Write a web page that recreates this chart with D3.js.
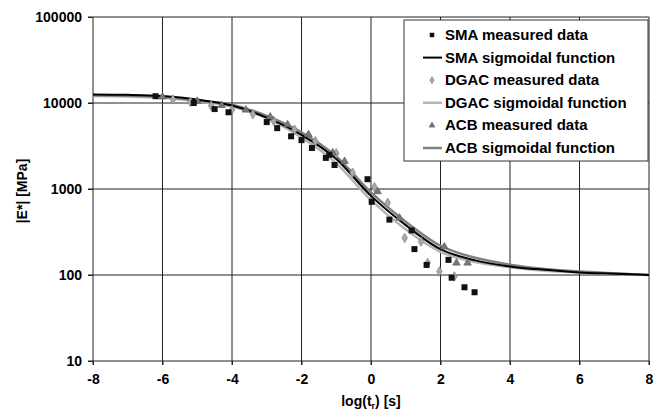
<!DOCTYPE html>
<html>
<head>
<meta charset="utf-8">
<script src="https://cdn.jsdelivr.net/npm/d3@7"></script>
<style>
  body { margin: 0; background: #fff; }
  svg text { font-family: "Liberation Sans", Arial, sans-serif; font-weight: bold; fill: #000; }
</style>
</head>
<body>
<div id="chart"></div>
<script>
// reduced time log(t_r) vs |E*| in MPa
const xTicks = [-8, -6, -4, -2, 0, 2, 4, 6, 8];
const yTicks = [10, 100, 1000, 10000, 100000];

// measured data [log(t_r), |E*|]
const smaMeasured = [
    [-6.2, 12000], [-5.1, 10000], [-4.5, 8500], [-4.1, 7800], [-3.0, 6000],
    [-2.7, 5100], [-2.3, 4100], [-2.0, 3700], [-1.7, 3000], [-1.3, 2300],
    [-1.2, 2500], [-1.05, 1900], [-0.1, 1300], [0.02, 710], [0.53, 440],
    [1.17, 330], [1.25, 200], [1.6, 131], [2.23, 150], [2.32, 93],
    [2.69, 72], [2.98, 63]
];
const dgacMeasured = [
    [-5.7, 11000], [-5.2, 10300], [-4.6, 9300], [-4.0, 8300], [-3.4, 7400],
    [-2.8, 6200], [-2.2, 4900], [-1.6, 3600], [-1.0, 2600], [-0.53, 1550],
    [0.1, 1050], [0.48, 690], [0.97, 270], [1.44, 245], [1.63, 138],
    [1.97, 110], [2.4, 96]
];
const acbMeasured = [
    [-6.0, 11800], [-5.0, 10500], [-4.3, 9400], [-3.6, 8300], [-2.9, 6900],
    [-2.4, 5600], [-1.8, 4300], [-1.1, 2640], [-0.76, 2100], [0.19, 935],
    [0.82, 460], [2.11, 213], [2.46, 138], [2.78, 138]
];

// sigmoidal fits [log(t_r), log10|E*|]
const smaSigmoid = [
    [-8, 4.10], [-7, 4.095], [-6, 4.08], [-5, 4.04], [-4, 3.97], [-3, 3.83],
    [-2, 3.63], [-1, 3.35], [0, 2.92], [1, 2.58], [2, 2.30], [3, 2.17],
    [4, 2.10], [5, 2.06], [6, 2.03], [7, 2.015], [8, 2.00]
];
const dgacSigmoid = [
    [-8, 4.08], [-7, 4.075], [-6, 4.06], [-5, 4.02], [-4, 3.96], [-3, 3.82],
    [-2, 3.60], [-1, 3.30], [0, 2.87], [1, 2.53], [2, 2.27], [3, 2.15],
    [4, 2.09], [5, 2.05], [6, 2.03], [7, 2.015], [8, 2.00]
];
const acbSigmoid = [
    [-8, 4.09], [-7, 4.085], [-6, 4.07], [-5, 4.03], [-4, 3.98], [-3, 3.85],
    [-2, 3.66], [-1, 3.38], [0, 2.96], [1, 2.62], [2, 2.34], [3, 2.20],
    [4, 2.12], [5, 2.07], [6, 2.04], [7, 2.02], [8, 2.00]
];

const legendLabels = [
    "SMA measured data", "SMA sigmoidal function",
    "DGAC measured data", "DGAC sigmoidal function",
    "ACB measured data", "ACB sigmoidal function"
];

const width = 663, height = 414;
const svg = d3.select("#chart").append("svg")
    .attr("width", width)
    .attr("height", height);

const x = d3.scaleLinear().domain([-8, 8]).range([93, 649]);
const y = d3.scaleLog().domain([10, 100000]).range([361, 17]);

// grid
svg.append("g").selectAll("line").data(yTicks).join("line")
    .attr("x1", 88).attr("x2", 649)
    .attr("y1", d => y(d)).attr("y2", d => y(d))
    .attr("stroke", "#222").attr("stroke-width", 1);
svg.append("g").selectAll("line").data(xTicks).join("line")
    .attr("x1", d => x(d)).attr("x2", d => x(d))
    .attr("y1", 17).attr("y2", 365)
    .attr("stroke", "#222").attr("stroke-width", 1);

// axes labels
const yAxis = svg.append("g").attr("transform", "translate(93,0)")
    .call(d3.axisLeft(y).tickValues(yTicks).tickFormat(d3.format("d")).tickSize(5).tickPadding(6));
const xAxis = svg.append("g").attr("transform", "translate(0,361)")
    .call(d3.axisBottom(x).tickValues(xTicks).tickFormat(d => d).tickSize(4).tickPadding(9));
[yAxis, xAxis].forEach(a => {
    a.select(".domain").remove();
    a.selectAll(".tick line").attr("stroke", "#222");
    a.selectAll("text").attr("font-size", 14).attr("font-family", null).style("fill", "#000");
});
xAxis.selectAll("text").text(d => d < 0 ? "-" + Math.abs(d) : d);

svg.append("text")
    .attr("transform", "translate(27,191) rotate(-90)")
    .attr("text-anchor", "middle")
    .attr("font-size", 14)
    .text("|E*| [MPa]");

const xt = svg.append("text")
    .attr("x", 371).attr("y", 406)
    .attr("text-anchor", "middle")
    .attr("font-size", 14);
xt.append("tspan").text("log(t");
xt.append("tspan").attr("font-size", 9).attr("dy", 3).text("r");
xt.append("tspan").attr("dy", -3).text(") [s]");

// curves
const line = d3.line()
    .x(d => x(d[0]))
    .y(d => y(Math.pow(10, d[1])))
    .curve(d3.curveMonotoneX);

const curves = [
    { data: dgacSigmoid, color: "#b4b4b4", w: 2.5 },
    { data: acbSigmoid, color: "#808080", w: 2.5 },
    { data: smaSigmoid, color: "#000", w: 2 }
];
curves.forEach(c => {
    svg.append("path").datum(c.data)
        .attr("d", line)
        .attr("fill", "none")
        .attr("stroke", c.color)
        .attr("stroke-width", c.w);
});

// markers
function drawMarker(g, type, cx, cy, s) {
    s = s || 1;
    if (type === "square") {
        const h = 3 * s;
        g.append("rect").attr("x", cx - h).attr("y", cy - h)
            .attr("width", 2 * h).attr("height", 2 * h).attr("fill", "#111");
    } else if (type === "diamond") {
        g.append("path").attr("d", d3.symbol(d3.symbolDiamond, 26 * s * s)())
            .attr("transform", `translate(${cx},${cy})`)
            .attr("fill", "#aaa").attr("stroke", "#888").attr("stroke-width", 0.8);
    } else {
        g.append("path").attr("d", d3.symbol(d3.symbolTriangle, 24 * s * s)())
            .attr("transform", `translate(${cx},${cy})`)
            .attr("fill", "#777").attr("stroke", "#666").attr("stroke-width", 0.8);
    }
}

const pts = svg.append("g");
dgacMeasured.forEach(d => drawMarker(pts, "diamond", x(d[0]), y(d[1])));
acbMeasured.forEach(d => drawMarker(pts, "triangle", x(d[0]), y(d[1])));
smaMeasured.forEach(d => drawMarker(pts, "square", x(d[0]), y(d[1])));

// legend
const lg = svg.append("g");
lg.append("rect")
    .attr("x", 404).attr("y", 20).attr("width", 244).attr("height", 141)
    .attr("fill", "#fff").attr("stroke", "#333").attr("stroke-width", 1);

const legendKeys = [
    { kind: "square" }, { kind: "line", color: "#000", w: 2 },
    { kind: "diamond" }, { kind: "line", color: "#b4b4b4", w: 2.5 },
    { kind: "triangle" }, { kind: "line", color: "#808080", w: 2.5 }
];
legendLabels.forEach((label, i) => {
    const ly = 35 + i * 22.6;
    const k = legendKeys[i];
    if (k.kind === "line") {
        lg.append("line").attr("x1", 423).attr("x2", 442)
            .attr("y1", ly).attr("y2", ly)
            .attr("stroke", k.color).attr("stroke-width", k.w);
    } else {
        drawMarker(lg, k.kind, 432, ly, 0.75);
    }
    lg.append("text")
        .attr("x", 445).attr("y", ly + 5)
        .attr("font-size", 15)
        .text(label);
});
</script>
</body>
</html>
